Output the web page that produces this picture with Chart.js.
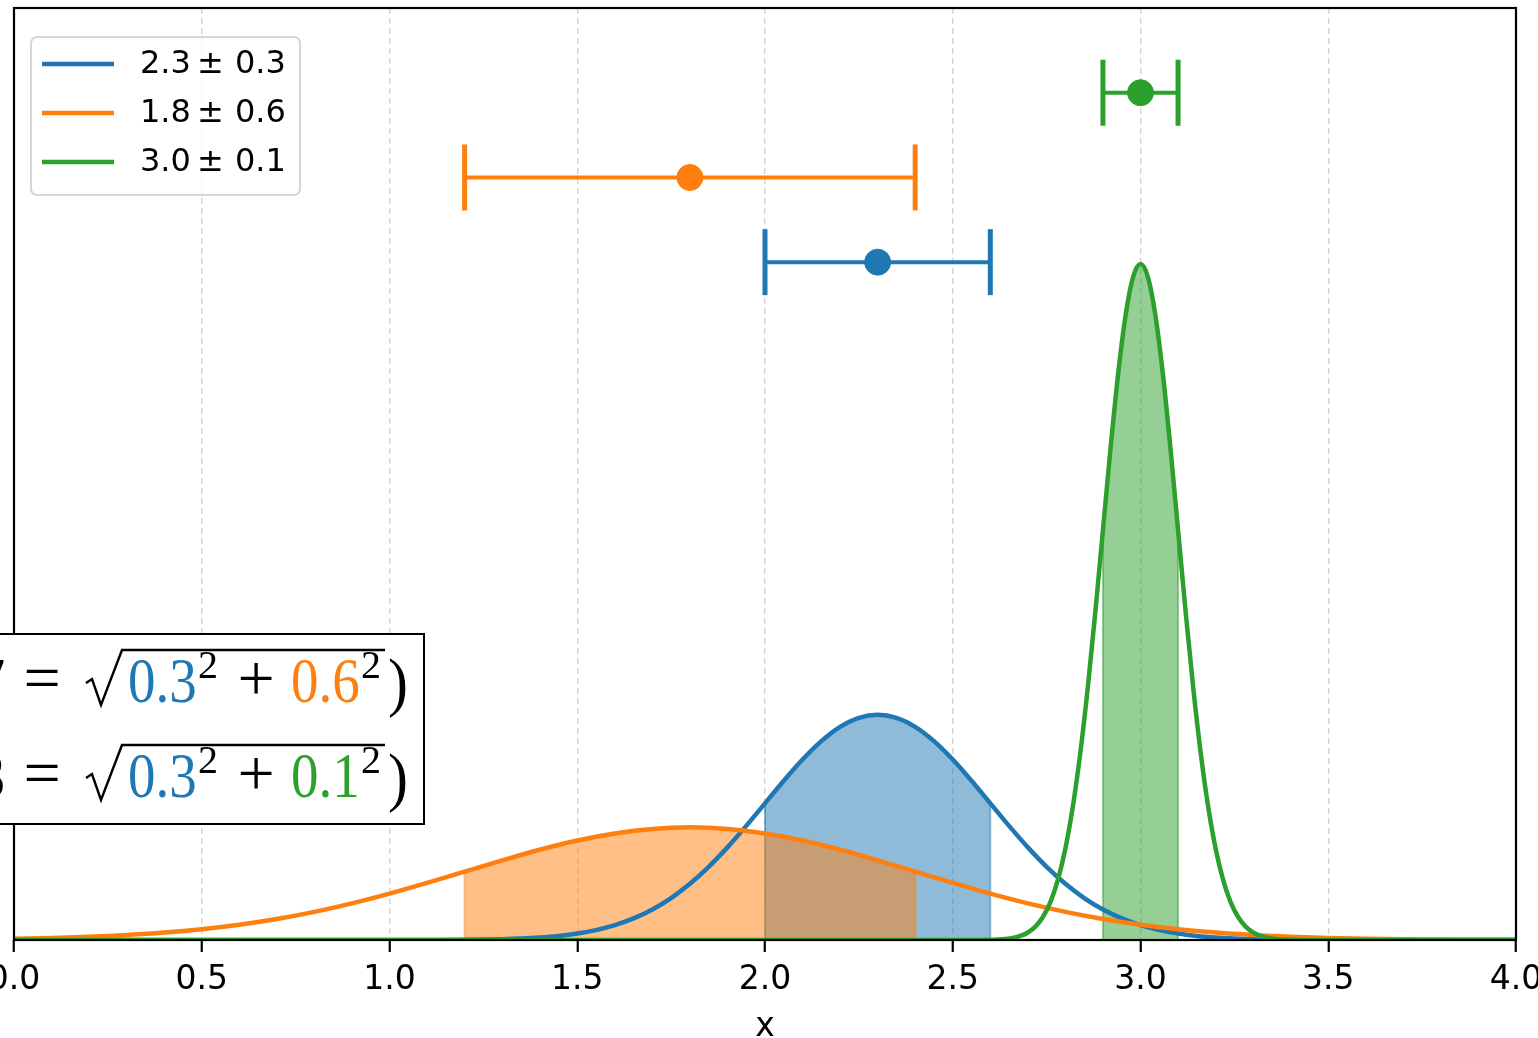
<!DOCTYPE html>
<html>
<head>
<meta charset="utf-8">
<script src="https://cdn.jsdelivr.net/npm/chart.js@4.4.0/dist/chart.umd.min.js"></script>
<style>
  html, body { margin: 0; padding: 0; background: #fff; }
  #wrap { position: relative; width: 1538px; height: 1038px; overflow: hidden; }
  #chart { position: absolute; left: -60px; top: 0; }
</style>
</head>
<body>
<div id="wrap"><canvas id="chart" width="1658" height="1038"></canvas></div>
<script>
// measurements: mean, sigma, height of the error-bar row
const means = [2.3, 1.8, 3.0];
const sigmas = [0.3, 0.6, 0.1];
const markerY = [4.0, 4.5, 5.0];
const colors = ['#1f77b4', '#ff7f0e', '#2ca02c'];
const fillColors = ['rgba(31,119,180,0.5)', 'rgba(255,127,14,0.5)', 'rgba(44,160,44,0.5)'];

const tickValues = [0, 0.5, 1, 1.5, 2, 2.5, 3, 3.5, 4];
const tickLabels = ['0.0', '0.5', '1.0', '1.5', '2.0', '2.5', '3.0', '3.5', '4.0'];

// density curves
const blueX = [0, 1.0, 1.1, 1.2, 1.3, 1.35, 1.4, 1.45, 1.5, 1.55, 1.6, 1.65, 1.7, 1.75, 1.8, 1.85, 1.9, 1.95,
  2.0, 2.05, 2.1, 2.15, 2.2, 2.25, 2.3, 2.35, 2.4, 2.45, 2.5, 2.55, 2.6, 2.65, 2.7, 2.75, 2.8, 2.85,
  2.9, 2.95, 3.0, 3.05, 3.1, 3.15, 3.2, 3.25, 3.3, 3.4, 3.5, 3.6, 4.0];
const blueY = [0, 0, 0.0004, 0.0016, 0.0051, 0.0088, 0.0148, 0.024, 0.038, 0.0584, 0.0874, 0.1272, 0.18, 0.2476,
  0.3317, 0.4318, 0.5467, 0.6733, 0.8066, 0.9397, 1.0648, 1.1736, 1.258, 1.3114, 1.3298, 1.3114, 1.258,
  1.1736, 1.0648, 0.9397, 0.8066, 0.6733, 0.5467, 0.4318, 0.3317, 0.2476, 0.18, 0.1272, 0.0874, 0.0584,
  0.038, 0.024, 0.0148, 0.0088, 0.0051, 0.0016, 0.0004, 0, 0];

const orangeX = [0, 0.1, 0.2, 0.3, 0.4, 0.5, 0.6, 0.7, 0.8, 0.9, 1.0, 1.1, 1.2, 1.3, 1.4, 1.5, 1.6, 1.7, 1.8, 1.9,
  2.0, 2.1, 2.2, 2.3, 2.4, 2.5, 2.6, 2.7, 2.8, 2.9, 3.0, 3.1, 3.2, 3.3, 3.4, 3.5, 3.6, 3.7, 3.8, 3.9, 4.0];
const orangeY = [0.0074, 0.012, 0.019, 0.0292, 0.0437, 0.0636, 0.09, 0.1238, 0.1658, 0.2159, 0.2733, 0.3366,
  0.4033, 0.4698, 0.5324, 0.5868, 0.629, 0.6557, 0.6649, 0.6557, 0.629, 0.5868, 0.5324, 0.4698, 0.4033,
  0.3366, 0.2733, 0.2159, 0.1658, 0.1238, 0.09, 0.0636, 0.0437, 0.0292, 0.019, 0.012, 0.0074, 0.0044,
  0.0026, 0.0015, 0.0008];

const greenX = [0, 2.5, 2.6, 2.62, 2.64, 2.66, 2.68, 2.7, 2.72, 2.74, 2.76, 2.78, 2.8, 2.82, 2.84, 2.86, 2.88,
  2.9, 2.92, 2.94, 2.96, 2.98, 3.0, 3.02, 3.04, 3.06, 3.08, 3.1, 3.12, 3.14, 3.16, 3.18, 3.2, 3.22, 3.24,
  3.26, 3.28, 3.3, 3.32, 3.34, 3.36, 3.38, 3.4, 3.5, 4.0];
const greenY = [0, 0, 0.0013, 0.0029, 0.0061, 0.0123, 0.0238, 0.0443, 0.0791, 0.1357, 0.2239, 0.3547, 0.5399,
  0.7895, 1.109, 1.497, 1.942, 2.42, 2.897, 3.332, 3.682, 3.91, 3.989, 3.91, 3.682, 3.332, 2.897, 2.42,
  1.942, 1.497, 1.109, 0.7895, 0.5399, 0.3547, 0.2239, 0.1357, 0.0791, 0.0443, 0.0238, 0.0123, 0.0061,
  0.0029, 0.0013, 0, 0];

// text of the annotation box (left part falls outside the figure)
const mathRows = [
  { pre: '0.5 \u00b1 0.7', a: '0.3', b: '0.6', bColor: colors[1] },
  { pre: '0.7 \u00b1 0.3', a: '0.3', b: '0.1', bColor: colors[2] }
];

const curvesX = [blueX, orangeX, greenX];
const curvesY = [blueY, orangeY, greenY];

function toPoints(xs, ys) {
  return xs.map((x, i) => ({ x: x, y: ys[i] }));
}

function inRange(xs, ys, lo, hi) {
  const pts = [];
  xs.forEach((x, i) => {
    if (x >= lo - 1e-9 && x <= hi + 1e-9) pts.push({ x: x, y: ys[i] });
  });
  return pts;
}

const datasets = [];
means.forEach((m, i) => {
  const lo = m - sigmas[i], hi = m + sigmas[i];
  const bandPts = inRange(curvesX[i], curvesY[i], lo, hi);
  const first = bandPts[0], last = bandPts[bandPts.length - 1];
  datasets.push({
    label: 'band' + i,
    data: bandPts,
    showLine: true,
    fill: 'origin',
    backgroundColor: fillColors[i],
    borderWidth: 0,
    pointRadius: 0,
    cubicInterpolationMode: 'monotone',
    order: 30 - i
  });
  [first, last].forEach((p, k) => {
    datasets.push({
      label: 'edge' + i + k,
      data: [{ x: p.x, y: 0 }, { x: p.x, y: p.y }],
      showLine: true,
      fill: false,
      borderColor: fillColors[i],
      borderWidth: 2,
      pointRadius: 0,
      order: 30 - i
    });
  });
  datasets.push({
    label: m.toFixed(1) + ' \u00b1 ' + sigmas[i].toFixed(1),
    data: toPoints(curvesX[i], curvesY[i]),
    showLine: true,
    fill: false,
    borderColor: colors[i],
    borderWidth: 4.5,
    pointRadius: 0,
    cubicInterpolationMode: 'monotone',
    order: 10 - i
  });
  datasets.push({
    label: 'err' + i,
    data: [{ x: lo, y: markerY[i] }, { x: m, y: markerY[i] }, { x: hi, y: markerY[i] }],
    showLine: true,
    fill: false,
    borderColor: colors[i],
    borderWidth: 4,
    pointStyle: ['line', 'circle', 'line'],
    pointRadius: [33, 13, 33],
    pointRotation: [90, 0, 90],
    pointBorderWidth: [5, 1, 5],
    pointBorderColor: colors[i],
    pointBackgroundColor: colors[i],
    order: 5 - i
  });
});

const overlay = {
  id: 'overlay',
  afterDraw(chart) {
    const ctx = chart.ctx;
    const ca = chart.chartArea;
    // axes frame
    ctx.save();
    ctx.strokeStyle = '#000';
    ctx.lineWidth = 2.2;
    ctx.strokeRect(ca.left, ca.top, ca.right - ca.left, ca.bottom - ca.top);
    ctx.restore();

    // legend
    ctx.save();
    const lx = ca.left + 17, ly = ca.top + 29, lw = 269, lh = 158;
    ctx.beginPath();
    ctx.roundRect(lx, ly, lw, lh, 6);
    ctx.fillStyle = 'rgba(255,255,255,0.8)';
    ctx.fill();
    ctx.strokeStyle = '#d6d6d6';
    ctx.lineWidth = 2;
    ctx.stroke();
    ctx.font = '32px "DejaVu Sans"';
    ctx.textBaseline = 'middle';
    ctx.fillStyle = '#000';
    means.forEach((m, i) => {
      const y = ca.top + 56 + i * 49;
      ctx.beginPath();
      ctx.moveTo(ca.left + 28, y);
      ctx.lineTo(ca.left + 100, y);
      ctx.strokeStyle = colors[i];
      ctx.lineWidth = 4.5;
      ctx.stroke();
      const tx = ca.left + 126;
      ctx.fillText(m.toFixed(1), tx, y + 1);
      ctx.fillText('\u00b1', tx + 57, y + 1);
      ctx.fillText(sigmas[i].toFixed(1), tx + 95, y + 1);
    });
    ctx.restore();

    // annotation box with the combined errors
    ctx.save();
    const ox = ca.left - 14;
    const bTop = ca.bottom - 306, bBottom = ca.bottom - 116, bRight = ox + 424;
    ctx.fillStyle = '#fff';
    ctx.fillRect(0, bTop, bRight, bBottom - bTop);
    ctx.strokeStyle = '#000';
    ctx.lineWidth = 2;
    ctx.strokeRect(-5, bTop, bRight + 5, bBottom - bTop);

    function txt(t, x, y, color, size, align, stretch) {
      ctx.save();
      ctx.translate(x, y);
      ctx.scale(1, stretch || 1);
      ctx.font = size + 'px "Liberation Serif"';
      ctx.textAlign = align || 'left';
      ctx.textBaseline = 'alphabetic';
      ctx.fillStyle = color;
      ctx.fillText(t, 0, 0);
      ctx.restore();
    }

    mathRows.forEach((row, i) => {
      const base = bTop + 68 + i * 95;
      txt(row.pre, ox + 5, base, '#000', 55, 'right', 1.15);
      txt('=', ox + 42, base - 2, '#000', 66, 'center');
      ctx.beginPath();
      ctx.moveTo(ox + 86, base - 19);
      ctx.lineTo(ox + 92, base - 23);
      ctx.lineTo(ox + 101, base + 3);
      ctx.lineTo(ox + 122, base - 52);
      ctx.lineTo(ox + 385, base - 52);
      ctx.strokeStyle = '#000';
      ctx.lineWidth = 2.4;
      ctx.lineJoin = 'miter';
      ctx.stroke();
      txt(row.a, ox + 128, base, colors[0], 55, 'left', 1.15);
      txt('2', ox + 198, base - 24, '#000', 40, 'left');
      txt('+', ox + 256, base - 2, '#000', 66, 'center');
      txt(row.b, ox + 291, base, row.bColor, 55, 'left', 1.15);
      txt('2', ox + 361, base - 24, '#000', 40, 'left');
      txt(')', ox + 388, base + 2, '#000', 60, 'left', 1.1);
    });
    ctx.restore();
  }
};

Chart.defaults.font.family = '"DejaVu Sans"';
Chart.defaults.color = '#000';

new Chart(document.getElementById('chart').getContext('2d'), {
  type: 'scatter',
  data: { datasets: datasets },
  options: {
    responsive: false,
    animation: false,
    devicePixelRatio: 1,
    events: [],
    layout: { autoPadding: false, padding: { left: 74, right: 82, top: 8, bottom: 0 } },
    plugins: { legend: { display: false }, tooltip: { enabled: false } },
    scales: {
      x: {
        type: 'linear',
        min: 0,
        max: 4,
        afterFit: function(scale) { scale.height = 98; },
        afterBuildTicks: function(scale) { scale.ticks = tickValues.map(v => ({ value: v })); },
        ticks: {
          callback: function(v) { return tickLabels[tickValues.indexOf(v)]; },
          font: { size: 33 },
          color: '#000',
          padding: 9,
          maxRotation: 0,
          autoSkip: false
        },
        grid: {
          color: '#d6d6d6',
          lineWidth: 1.5,
          tickColor: '#000',
          tickWidth: 2.2,
          tickLength: 12,
          tickBorderDash: []
        },
        border: { display: false, dash: [6, 4] },
        title: { display: true, text: 'x', font: { size: 33, lineHeight: '22px' }, padding: { top: 0, bottom: 0 } }
      },
      y: { min: 0, max: 5.5, display: false }
    }
  },
  plugins: [overlay]
});
</script>
</body>
</html>
